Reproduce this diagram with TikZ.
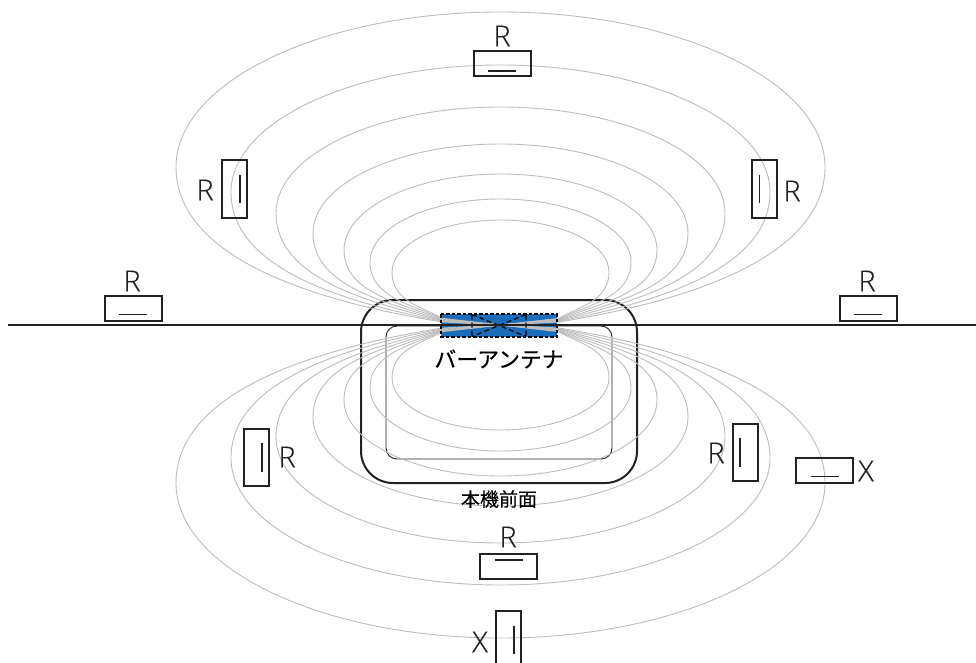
\documentclass[tikz,border=0pt]{standalone}
\usepackage{fontspec}
\setmainfont[FakeBold=0.3]{Open Sans Light}
\newfontfamily\cjk[FakeBold=0.55]{Noto Sans CJK JP}
\newfontfamily\cjkn[FakeBold=0.15]{Noto Sans CJK JP}
\definecolor{fieldgray}{HTML}{BDBDBD}
\definecolor{antblue}{HTML}{1A6DBB}
\definecolor{inkline}{HTML}{222222}
\tikzset{
  fieldline/.style={draw=fieldgray,line width=0.9pt},
  sensor/.style={draw=inkline,line width=2pt,minimum width=57pt,minimum height=25pt,inner sep=0pt,outer sep=0pt},
  vsensor/.style={draw=inkline,line width=2pt,minimum width=25pt,minimum height=57pt,inner sep=0pt,outer sep=0pt},
  tick/.style={draw=inkline,line width=1.8pt},
  lab/.style={inner sep=0pt,font=\fontsize{29}{29}\selectfont,text=inkline},
}
\newcommand{\fieldloop}[5]{% half-width, extreme height, top height, end offset, arrival slope
  \draw[fieldline] (0,0) -- (-58,-#4)
    .. controls ({-58-0.42*(#1-58)},{-#4-#5*0.42*(#1-58)}) and ({-#1},{-#2-0.62*(#4-#2)})
    .. ({-#1},{-#2})
    .. controls ({-#1},{-#2-0.55*(#3-#2)}) and ({-0.55*#1},{-#3})
    .. (0,{-#3});
}
\begin{document}
\begin{tikzpicture}[x=1pt,y=-1pt]
\useasboundingbox (0,0) rectangle (976,663);
\clip (0,0) rectangle (976,663);
\fill[white] (0,0) rectangle (976,663);
% device
\draw[inkline,line width=2pt,rounded corners=32pt] (361,300) rectangle (637,483);
\draw[inkline,line width=0.9pt,rounded corners=11pt] (386,326) rectangle (612,459);
% bar antenna
\node[fill=antblue,minimum width=116pt,minimum height=23pt,inner sep=0pt,outer sep=0pt] (bar) at (499,325.5) {};
% field lines
\begin{scope}[shift={(500.5,325)}]
\foreach \sx/\sy in {1/1,-1/1,1/-1,-1/-1}{
  \begin{scope}[xscale=\sx,yscale=\sy]
    \fieldloop{324.5}{158}{313}{3}{0.16}
    \fieldloop{269.5}{133}{260}{3.6}{0.20}
    \fieldloop{224.5}{112}{218}{4.2}{0.26}
    \fieldloop{187.5}{92}{181}{4.8}{0.32}
    \fieldloop{156.5}{75}{151}{5.4}{0.40}
    \fieldloop{130.5}{63}{126}{6}{0.48}
    \fieldloop{108.5}{53}{105}{6.6}{0.56}
  \end{scope}
}
\end{scope}
% antenna outline
\draw[black,line width=1.2pt,dash pattern=on 3.5pt off 2pt] (bar.north west) rectangle (bar.south east);
\coordinate (ca) at (472,314.5);
\coordinate (cb) at (526,314.5);
\coordinate (cc) at (526,336.5);
\coordinate (cd) at (472,336.5);
\draw[black,line width=1.2pt,dash pattern=on 5pt off 3pt] (ca) -- (cd) (cb) -- (cc) (ca) -- (cc) (cb) -- (cd);
% axis
\coordinate (axl) at (8,325);
\coordinate (axr) at (976,325);
\draw[inkline,line width=1.8pt] (axl) -- (axr);
% labels
\node[inner sep=0pt,text=black] (barlab) at (499,359) {\cjk\fontsize{21.8}{22}\selectfont バーアンテナ};
\node[inner sep=0pt,text=black] (frontlab) at (499,499) {\cjkn\fontsize{19}{20}\selectfont 本機前面};
% sensors
\node[sensor] (s1) at (502,64) {};
\draw[tick] ([shift={(-14,7)}]s1.center) -- ([shift={(14,7)}]s1.center);
\node[lab] (l1) at (502,36) {R};
\node[vsensor] (s2) at (234.5,189) {};
\draw[tick] ([shift={(5.5,-14)}]s2.center) -- ([shift={(5.5,14)}]s2.center);
\node[lab] (l2) at (205,190) {R};
\node[vsensor] (s3) at (764,189) {};
\draw[tick] ([shift={(-4.5,-14)}]s3.center) -- ([shift={(-4.5,14)}]s3.center);
\node[lab] (l3) at (792,191) {R};
\node[sensor] (s4) at (133,308.5) {};
\draw[tick] ([shift={(-14,6)}]s4.center) -- ([shift={(14,6)}]s4.center);
\node[lab] (l4) at (132,281) {R};
\node[sensor] (s5) at (868,308.5) {};
\draw[tick] ([shift={(-14,6)}]s5.center) -- ([shift={(14,6)}]s5.center);
\node[lab] (l5) at (867,281) {R};
\node[vsensor] (s6) at (256.5,457) {};
\draw[tick] ([shift={(5.5,-14.5)}]s6.center) -- ([shift={(5.5,14.5)}]s6.center);
\node[lab] (l6) at (287,457) {R};
\node[vsensor] (s7) at (745.5,452.5) {};
\draw[tick] ([shift={(-5.5,-14.5)}]s7.center) -- ([shift={(-5.5,14.5)}]s7.center);
\node[lab] (l7) at (716,453) {R};
\node[sensor] (s8) at (824.5,470.5) {};
\draw[tick] ([shift={(-14,6)}]s8.center) -- ([shift={(14,6)}]s8.center);
\node[lab] (l8) at (866,471) {X};
\node[sensor] (s9) at (508.5,566) {};
\draw[tick] ([shift={(-14,-6)}]s9.center) -- ([shift={(14,-6)}]s9.center);
\node[lab] (l9) at (508,537) {R};
\node[vsensor] (s10) at (508.5,639.5) {};
\draw[tick] ([shift={(5.5,-14)}]s10.center) -- ([shift={(5.5,14)}]s10.center);
\node[lab] (l10) at (480,642) {X};
\end{tikzpicture}
\end{document}
